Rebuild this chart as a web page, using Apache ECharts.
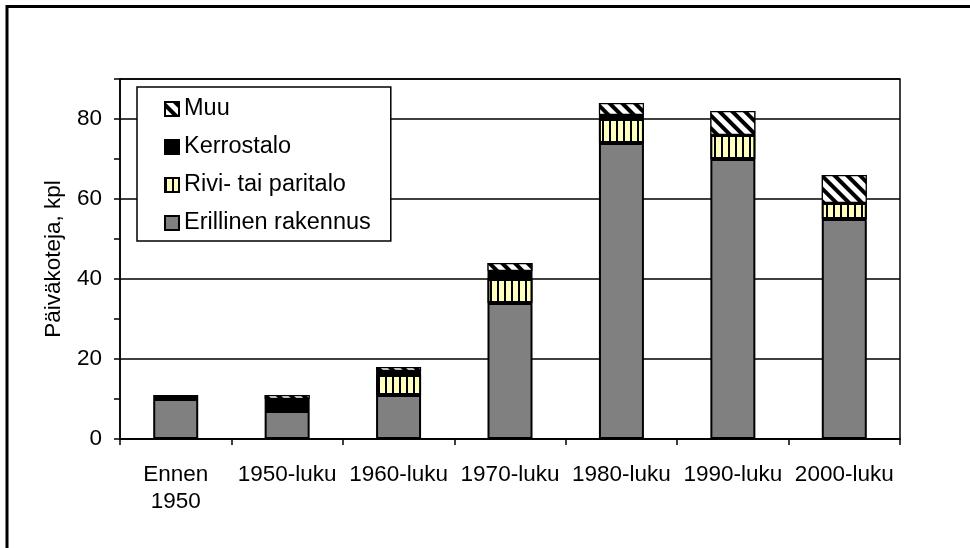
<!DOCTYPE html>
<html>
<head>
<meta charset="utf-8">
<script src="https://cdn.jsdelivr.net/npm/echarts@6/dist/echarts.min.js"></script>
<style>
  html, body { margin: 0; padding: 0; background: #fff; }
  #echart { width: 970px; height: 548px; }
</style>
</head>
<body>
<div id="echart"></div>
<script>
// luokat ja arvot
var categories = ["Ennen\n1950", "1950-luku", "1960-luku", "1970-luku", "1980-luku", "1990-luku", "2000-luku"];
var erillinen = [10, 7, 11, 34, 74, 70, 55];
var rivi = [0, 0, 5, 6, 6, 6, 4];
var kerrostalo = [1, 3, 1, 2, 1, 0, 0];
var muu = [0, 1, 1, 2, 3, 6, 7];
var legendOrder = ["Muu", "Kerrostalo", "Rivi- tai paritalo", "Erillinen rakennus"];

var font = "Liberation Sans, Arial, sans-serif";

function noZero(arr) {
  return arr.map(function (v) { return v === 0 ? "-" : v; });
}

var myChart = echarts.init(document.getElementById("echart"));

var option = {
  animation: false,
  backgroundColor: "#fff",
  textStyle: { fontFamily: font, color: "#000" },
  graphic: [
    {
      type: "rect",
      shape: { x: 7, y: 6.5, width: 1000, height: 600 },
      style: { fill: null, stroke: "#000", lineWidth: 3 },
      silent: true
    }
  ],
  grid: {
    left: 120,
    right: 70,
    top: 79,
    bottom: 109,
    show: true,
    borderColor: "#000",
    borderWidth: 1.5
  },
  legend: {
    data: legendOrder,
    orient: "vertical",
    left: 137,
    top: 87,
    padding: [10, 20, 6, 27],
    itemGap: 14,
    itemWidth: 14,
    itemHeight: 14,
    icon: "rect",
    backgroundColor: "#fff",
    borderColor: "#000",
    borderWidth: 1.5,
    borderRadius: 0,
    textStyle: { fontFamily: font, fontSize: 23.5, color: "#000", lineHeight: 23 }
  },
  xAxis: {
    type: "category",
    data: categories,
    axisLine: { lineStyle: { color: "#000", width: 1.5 } },
    axisTick: { show: true, length: 6, lineStyle: { color: "#000", width: 1.5 } },
    axisLabel: { fontFamily: font, fontSize: 22.5, color: "#000", lineHeight: 27, margin: 22, interval: 0 },
    splitLine: { show: false }
  },
  yAxis: [
    {
      type: "value",
      min: 0,
      max: 90,
      interval: 10,
      name: "Päiväkoteja, kpl",
      nameLocation: "middle",
      nameGap: 55,
      nameTextStyle: { fontFamily: font, fontSize: 22.5, color: "#000" },
      axisLine: { show: true, lineStyle: { color: "#000", width: 1.5 } },
      axisTick: { show: true, length: 6, lineStyle: { color: "#000", width: 1.5 } },
      axisLabel: {
        fontFamily: font, fontSize: 22.5, color: "#000", margin: 18,
        formatter: function (v) { return v % 20 === 0 && v < 90 ? v : ""; }
      },
      splitLine: { show: false }
    },
    {
      // pelkät apuviivat 20:n välein
      type: "value",
      min: 0,
      max: 90,
      interval: 20,
      position: "left",
      axisLine: { show: false },
      axisTick: { show: false },
      axisLabel: { show: false },
      splitLine: { show: true, lineStyle: { color: "#000", width: 1.5 } }
    }
  ],
  series: [
    {
      name: "Erillinen rakennus",
      type: "bar",
      stack: "a",
      barWidth: 45,
      data: noZero(erillinen),
      itemStyle: { color: "#808080", borderColor: "#000", borderWidth: 2 }
    },
    {
      name: "Rivi- tai paritalo",
      type: "bar",
      stack: "a",
      data: noZero(rivi),
      itemStyle: {
        color: "#ffffc0",
        borderColor: "#000",
        borderWidth: 2,
        decal: {
          symbol: "rect",
          color: "#000",
          backgroundColor: "#ffffc0",
          dashArrayX: [1.5, 5],
          dashArrayY: [1, 0],
          rotation: 0
        }
      }
    },
    {
      name: "Kerrostalo",
      type: "bar",
      stack: "a",
      data: noZero(kerrostalo),
      itemStyle: { color: "#000", borderColor: "#000", borderWidth: 2 }
    },
    {
      name: "Muu",
      type: "bar",
      stack: "a",
      data: noZero(muu),
      itemStyle: {
        color: "#fff",
        borderColor: "#000",
        borderWidth: 1.2,
        decal: {
          symbol: "rect",
          color: "#000",
          backgroundColor: "#fff",
          dashArrayX: [1, 0],
          dashArrayY: [4, 5],
          rotation: Math.PI / 4
        }
      }
    }
  ]
};

myChart.setOption(option);
</script>
</body>
</html>
